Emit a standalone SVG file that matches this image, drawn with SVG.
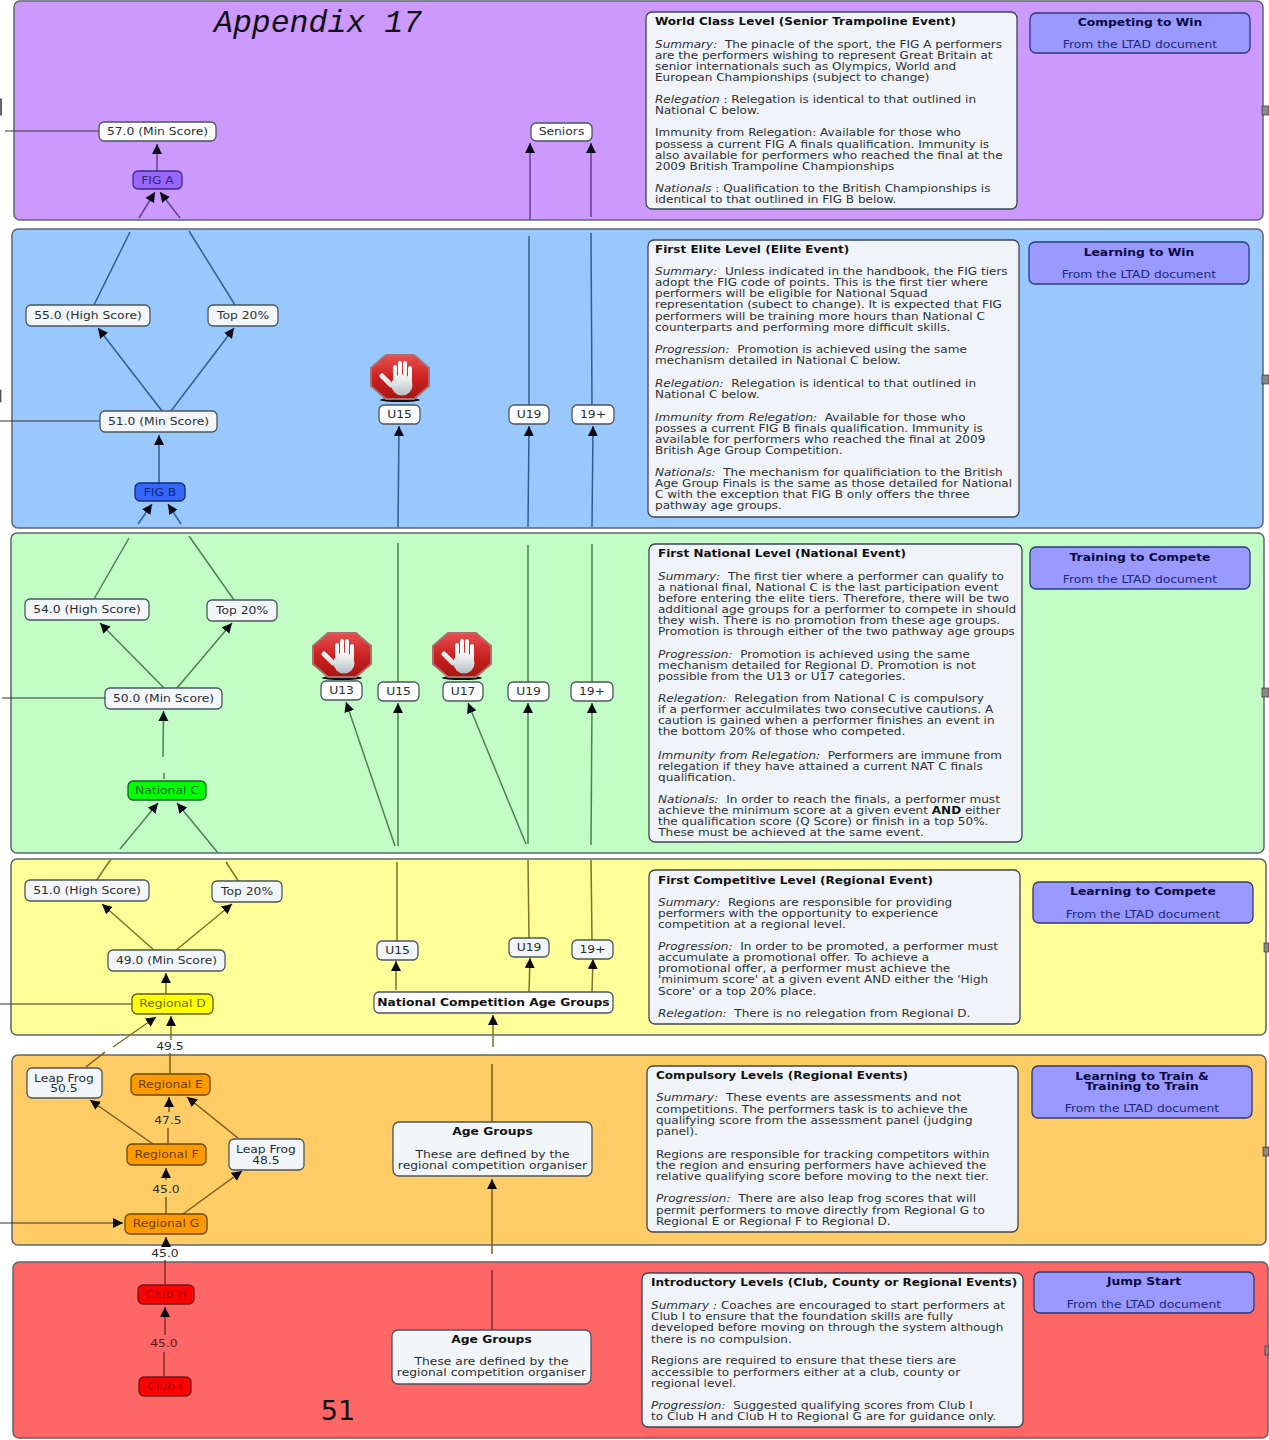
<svg xmlns="http://www.w3.org/2000/svg" width="1269" height="1440" viewBox="0 0 1269 1440">
<style>
text{font-family:"DejaVu Sans",Verdana,sans-serif;fill:#2a2f33;white-space:pre}
.band{stroke:#5c6670;stroke-width:1.5}
.panel{fill:#f0f4f8;stroke:#3c4650;stroke-width:1.3}
.note{fill:#f3f6f9;stroke:#4a5560;stroke-width:1.3}
.wn{fill:#fff;stroke:#4a5560;stroke-width:1.3}
.ltad{fill:#9999ff;stroke:#2c3a78;stroke-width:1.3}
.b,.h{font-size:10.4px;transform-box:fill-box;transform-origin:0 50%;transform:scaleX(1.158)}
.b{fill:#2c3136}
.h{font-weight:bold;fill:#111}
.i{font-style:italic}
.n,.lt,.ls{font-size:10.4px;text-anchor:middle;transform-box:fill-box;transform-origin:50% 50%;transform:scaleX(1.185)}
.lt{font-weight:bold;fill:#0a0a40}
.ls{fill:#1c2a78}
.c line{fill:none}
.pu line{stroke:#66408c}.bl line{stroke:#2f5f8a}.gr line{stroke:#4d7f58}.ye line{stroke:#7d7228}.or line{stroke:#7a5a1e}.re line{stroke:#8c2a30}
.c line{stroke-width:1.5}
.x line{stroke:#333;stroke-width:1}
</style>
<defs>
<marker id="a" markerUnits="userSpaceOnUse" markerWidth="12" markerHeight="12" refX="10" refY="5" orient="auto"><path d="M0 0L10 5L0 10Z" fill="#0a0a14"/></marker>
<linearGradient id="sg" x1="0" y1="0" x2="0" y2="1"><stop offset="0" stop-color="#e85050"/><stop offset=".5" stop-color="#cc2222"/><stop offset="1" stop-color="#a81410"/></linearGradient>
<linearGradient id="hg" gradientUnits="userSpaceOnUse" x1="0" y1="-16" x2="0" y2="19"><stop offset="0" stop-color="#fff"/><stop offset=".5" stop-color="#eef0f0"/><stop offset="1" stop-color="#b4bcc0"/></linearGradient>
<g id="stop">
<ellipse cx="0" cy="23" rx="20" ry="2" fill="#111"/>
<path d="M-14-22H14L29-9V9L14 22H-14L-29 9V-9Z" fill="url(#sg)" stroke="#a87070" stroke-width="2" stroke-linejoin="round"/>
<g stroke="url(#hg)" stroke-linecap="round" fill="none">
<path d="M-5-10V3M0-14V3M5-14V3M10-9V5" stroke-width="4"/>
<path d="M-18-1L-9 8" stroke-width="5"/>
</g>
<ellipse cx="2" cy="8" rx="10.500" ry="10.500" fill="url(#hg)"/>
</g>
</defs>
<rect width="1269" height="1440" fill="#fff"/>
<g id="bands">
<rect class="band" x="14" y="1" width="1249" height="219" rx="6" fill="#cc99ff"/>
<rect class="band" x="12" y="229" width="1251" height="299" rx="6" fill="#99c8ff"/>
<rect class="band" x="11" y="533" width="1253" height="320" rx="6" fill="#c2fdc6"/>
<rect class="band" x="11" y="859" width="1255" height="176" rx="6" fill="#ffff99"/>
<rect class="band" x="12" y="1055" width="1254" height="190" rx="6" fill="#ffcc66"/>
<rect class="band" x="13" y="1262" width="1255" height="176" rx="6" fill="#ff6666"/>
</g>
<g id="edge-marks" fill="#888" stroke="#333" stroke-width=".7">
<rect x="1262" y="106" width="7" height="9"/><rect x="1262" y="375" width="7" height="9"/><rect x="1262" y="688" width="7" height="9"/><rect x="1264" y="943" width="5" height="9"/><rect x="1263" y="1147" width="6" height="9"/><rect x="1265" y="1346" width="4" height="9"/>
<rect x="0" y="99" width="1.500" height="16"/><rect x="0" y="390" width="1" height="12"/>
</g>
<g id="connectors" class="c">
<g class="x">
<line x1="5" y1="131" x2="99" y2="131"/><line x1="0" y1="421" x2="100" y2="421"/><line x1="2" y1="698" x2="105" y2="698"/><line x1="0" y1="1004" x2="132" y2="1004"/>
<line x1="0" y1="1223" x2="123" y2="1223" marker-end="url(#a)"/>
</g>
<g class="pu">
<line x1="157" y1="172" x2="157" y2="144" marker-end="url(#a)"/>
<line x1="139" y1="218" x2="155" y2="192" marker-end="url(#a)"/>
<line x1="180" y1="218" x2="160" y2="192" marker-end="url(#a)"/>
<line x1="530" y1="220" x2="530" y2="143" marker-end="url(#a)"/>
<line x1="591" y1="217" x2="591" y2="143" marker-end="url(#a)"/>
</g>
<g class="bl">
<line x1="130" y1="232" x2="94" y2="305"/><line x1="189" y1="231" x2="235" y2="305"/>
<line x1="162" y1="411" x2="98" y2="328" marker-end="url(#a)"/>
<line x1="171" y1="411" x2="234" y2="328" marker-end="url(#a)"/>
<line x1="159" y1="484" x2="159" y2="435" marker-end="url(#a)"/>
<line x1="138" y1="524" x2="152" y2="504" marker-end="url(#a)"/>
<line x1="181" y1="524" x2="168" y2="504" marker-end="url(#a)"/>
<line x1="398" y1="527" x2="399" y2="426" marker-end="url(#a)"/>
<line x1="528" y1="527" x2="529" y2="426" marker-end="url(#a)"/>
<line x1="592" y1="527" x2="593" y2="426" marker-end="url(#a)"/>
<line x1="529" y1="236" x2="529" y2="405"/><line x1="591" y1="233" x2="592" y2="405"/>
</g>
<g class="gr">
<line x1="129" y1="538" x2="94" y2="599"/><line x1="189" y1="536" x2="234" y2="600"/>
<line x1="164" y1="688" x2="100" y2="623" marker-end="url(#a)"/>
<line x1="177" y1="688" x2="232" y2="623" marker-end="url(#a)"/>
<line x1="163" y1="757" x2="163.500" y2="711" marker-end="url(#a)"/>
<line x1="164" y1="773" x2="164" y2="779"/>
<line x1="120" y1="849" x2="158" y2="803" marker-end="url(#a)"/>
<line x1="218" y1="853" x2="177" y2="803" marker-end="url(#a)"/>
<line x1="395" y1="846" x2="346" y2="702" marker-end="url(#a)"/>
<line x1="398" y1="846" x2="398" y2="703" marker-end="url(#a)"/>
<line x1="526" y1="844" x2="468" y2="703" marker-end="url(#a)"/>
<line x1="528" y1="844" x2="528" y2="703" marker-end="url(#a)"/>
<line x1="591" y1="845" x2="592" y2="703" marker-end="url(#a)"/>
<line x1="398" y1="543" x2="398" y2="682"/><line x1="528" y1="545" x2="528" y2="682"/><line x1="592" y1="544" x2="592" y2="682"/>
</g>
<g class="ye">
<line x1="111" y1="859" x2="96" y2="881"/><line x1="226" y1="862" x2="239" y2="882"/>
<line x1="155" y1="951" x2="102" y2="904" marker-end="url(#a)"/>
<line x1="175" y1="951" x2="232" y2="904" marker-end="url(#a)"/>
<line x1="166" y1="994" x2="166" y2="973" marker-end="url(#a)"/>
<line x1="113" y1="1047" x2="156" y2="1017" marker-end="url(#a)"/>
<line x1="171" y1="1040" x2="171" y2="1016" marker-end="url(#a)"/>
<line x1="396" y1="990" x2="396" y2="961" marker-end="url(#a)"/>
<line x1="529" y1="992" x2="530" y2="958" marker-end="url(#a)"/>
<line x1="592" y1="992" x2="593" y2="959" marker-end="url(#a)"/>
<line x1="397" y1="862" x2="397" y2="941"/><line x1="528" y1="860" x2="529" y2="938"/><line x1="591" y1="860" x2="592" y2="940"/>
<line x1="493" y1="1047" x2="493" y2="1015" marker-end="url(#a)"/>
</g>
<g class="or">
<line x1="86" y1="1067" x2="105" y2="1052"/>
<line x1="170" y1="1053" x2="170" y2="1074"/>
<line x1="168" y1="1144" x2="168" y2="1128"/>
<line x1="169" y1="1112" x2="169" y2="1097" marker-end="url(#a)"/>
<line x1="153" y1="1144" x2="90" y2="1100" marker-end="url(#a)"/>
<line x1="238" y1="1138" x2="187" y2="1097" marker-end="url(#a)"/>
<line x1="166" y1="1214" x2="166" y2="1197"/>
<line x1="166" y1="1180" x2="166" y2="1168" marker-end="url(#a)"/>
<line x1="183" y1="1214" x2="242" y2="1171" marker-end="url(#a)"/>
<line x1="166" y1="1247" x2="166" y2="1237" marker-end="url(#a)"/>
<line x1="492" y1="1122" x2="492" y2="1064"/>
<line x1="492" y1="1254" x2="492" y2="1179" marker-end="url(#a)"/>
</g>
<g class="re">
<line x1="165" y1="1260" x2="165" y2="1285"/>
<line x1="164" y1="1376" x2="164" y2="1352"/>
<line x1="165" y1="1335" x2="165" y2="1307" marker-end="url(#a)"/>
<line x1="492" y1="1330" x2="492" y2="1270"/>
</g>
</g>
<g id="title"><text x="214" y="32" style="font-family:'Liberation Mono',monospace;font-style:italic;font-size:31.5px;fill:#111">Appendix 17</text></g>
<g id="page"><text x="338" y="1420" text-anchor="middle" style="font-size:27px;fill:#111">51</text></g>

<g id="n57"><rect class="wn" x="99" y="122" width="117" height="19" rx="5"/><text class="n" x="157.500" y="135">57.0 (Min Score)</text></g>
<g id="seniors"><rect class="wn" x="531" y="123" width="61" height="18" rx="5"/><text class="n" x="561.500" y="135">Seniors</text></g>
<g id="figa"><rect x="133" y="171" width="49" height="18" rx="5" fill="#9966ff" stroke="#3a2a80" stroke-width="1.3"/><text class="n" x="157.500" y="184" style="fill:#2a2a70">FIG A</text></g>

<g id="n55"><rect class="note" x="26" y="305" width="124" height="21" rx="5"/><text class="n" x="88" y="319">55.0 (High Score)</text></g>
<g id="t20b"><rect class="note" x="208" y="305" width="70" height="21" rx="5"/><text class="n" x="243" y="319">Top 20%</text></g>
<g id="n51"><rect class="note" x="100" y="411" width="117" height="21" rx="5"/><text class="n" x="158.500" y="425">51.0 (Min Score)</text></g>
<g id="figb"><rect x="135" y="483" width="50" height="18" rx="5" fill="#3366ff" stroke="#1a2a70" stroke-width="1.3"/><text class="n" x="160" y="496" style="fill:#14286e">FIG B</text></g>
<g id="stopb"><use href="#stop" x="400" y="377"/></g>
<g id="u15b"><rect class="wn" x="379" y="405" width="41" height="19" rx="5"/><text class="n" x="399.500" y="418">U15</text></g>
<g id="u19b"><rect class="wn" x="509" y="405" width="40" height="19" rx="5"/><text class="n" x="529" y="418">U19</text></g>
<g id="p19b"><rect class="wn" x="572" y="405" width="42" height="19" rx="5"/><text class="n" x="593" y="418">19+</text></g>

<g id="n54"><rect class="note" x="25" y="599" width="124" height="21" rx="5"/><text class="n" x="87" y="613">54.0 (High Score)</text></g>
<g id="t20g"><rect class="note" x="207" y="600" width="70" height="21" rx="5"/><text class="n" x="242" y="614">Top 20%</text></g>
<g id="n50"><rect class="note" x="105" y="688" width="117" height="21" rx="5"/><text class="n" x="163.500" y="702">50.0 (Min Score)</text></g>
<g id="natc"><rect x="128" y="781" width="78" height="19" rx="5" fill="#00ff00" stroke="#14602a" stroke-width="1.3"/><text class="n" x="167" y="794" style="fill:#0c6a2a">National C</text></g>
<g id="stop13"><use href="#stop" x="342" y="655"/></g>
<g id="stop17"><use href="#stop" x="462" y="655"/></g>
<g id="u13"><rect class="wn" x="321" y="681" width="41" height="19" rx="5"/><text class="n" x="341.500" y="694">U13</text></g>
<g id="u15g"><rect class="wn" x="378" y="682" width="41" height="19" rx="5"/><text class="n" x="398.500" y="695">U15</text></g>
<g id="u17"><rect class="wn" x="443" y="682" width="40" height="19" rx="5"/><text class="n" x="463" y="695">U17</text></g>
<g id="u19g"><rect class="wn" x="508" y="682" width="41" height="19" rx="5"/><text class="n" x="528.500" y="695">U19</text></g>
<g id="p19g"><rect class="wn" x="571" y="682" width="42" height="19" rx="5"/><text class="n" x="592" y="695">19+</text></g>

<g id="n51y"><rect class="note" x="25" y="880" width="124" height="21" rx="5"/><text class="n" x="87" y="894">51.0 (High Score)</text></g>
<g id="t20y"><rect class="note" x="212" y="881" width="70" height="21" rx="5"/><text class="n" x="247" y="895">Top 20%</text></g>
<g id="n49"><rect class="note" x="108" y="950" width="117" height="21" rx="5"/><text class="n" x="166.500" y="964">49.0 (Min Score)</text></g>
<g id="regd"><rect x="132" y="994" width="81" height="20" rx="5" fill="#ffff00" stroke="#5c5c20" stroke-width="1.3"/><text class="n" x="172.500" y="1007" style="fill:#6a6a10">Regional D</text></g>
<g id="u15y"><rect class="note" x="377" y="941" width="41" height="19" rx="5"/><text class="n" x="397.500" y="954">U15</text></g>
<g id="u19y"><rect class="note" x="509" y="938" width="40" height="19" rx="5"/><text class="n" x="529" y="951">U19</text></g>
<g id="p19y"><rect class="note" x="572" y="940" width="41" height="19" rx="5"/><text class="n" x="592.500" y="953">19+</text></g>
<g id="ncag"><rect class="wn" x="374" y="992" width="239" height="21" rx="5"/><text class="n" x="493.500" y="1006" style="font-weight:bold;fill:#111">National Competition Age Groups</text></g>
<g id="l495"><text class="n" x="170" y="1050">49.5</text></g>

<g id="lf505"><rect class="note" x="27" y="1068" width="75" height="30" rx="5"/><text class="n" x="64" y="1082">Leap Frog</text><text class="n" x="64" y="1092">50.5</text></g>
<g id="rege"><rect x="131" y="1074" width="79" height="21" rx="5" fill="#ff9900" stroke="#6a4a10" stroke-width="1.3"/><text class="n" x="170.500" y="1088" style="fill:#6a4208">Regional E</text></g>
<g id="l475"><text class="n" x="168" y="1124">47.5</text></g>
<g id="regf"><rect x="127" y="1144" width="79" height="21" rx="5" fill="#ff9900" stroke="#6a4a10" stroke-width="1.3"/><text class="n" x="166.500" y="1158" style="fill:#6a4208">Regional F</text></g>
<g id="lf485"><rect class="note" x="229" y="1139" width="75" height="31" rx="5"/><text class="n" x="266" y="1153">Leap Frog</text><text class="n" x="266" y="1164">48.5</text></g>
<g id="l450a"><text class="n" x="166" y="1193">45.0</text></g>
<g id="regg"><rect x="125" y="1214" width="82" height="20" rx="5" fill="#ff9900" stroke="#6a4a10" stroke-width="1.3"/><text class="n" x="166" y="1227" style="fill:#6a4208">Regional G</text></g>
<g id="l450b"><text class="n" x="165" y="1257">45.0</text></g>
<g id="ago"><rect class="note" x="393" y="1122" width="199" height="54" rx="6"/><text class="n" x="492.500" y="1135" style="font-weight:bold;fill:#111">Age Groups</text><text class="n" x="492.500" y="1158">These are defined by the</text><text class="n" x="492.500" y="1169">regional competition organiser</text></g>

<g id="cluh"><rect x="138" y="1285" width="56" height="19" rx="5" fill="#ff0000" stroke="#701818" stroke-width="1.3"/><text class="n" x="166" y="1298" style="fill:#a00c10">Club H</text></g>
<g id="l450c"><text class="n" x="164" y="1347" style="fill:#5a1a1c">45.0</text></g>
<g id="clui"><rect x="139" y="1377" width="52" height="19" rx="5" fill="#ff0000" stroke="#701818" stroke-width="1.3"/><text class="n" x="165" y="1390" style="fill:#a00c10">Club I</text></g>
<g id="agr"><rect class="note" x="392" y="1330" width="199" height="54" rx="6"/><text class="n" x="491.500" y="1343" style="font-weight:bold;fill:#111">Age Groups</text><text class="n" x="491.500" y="1365">These are defined by the</text><text class="n" x="491.500" y="1376">regional competition organiser</text></g>

<g id="world"><rect class="panel" x="646" y="12" width="371" height="197" rx="6"/>
<text class="h" x="655" y="25">World Class Level (Senior Trampoline Event)</text>
<text class="b" x="655" y="48"><tspan class="i">Summary:</tspan>  The pinacle of the sport, the FIG A performers</text>
<text class="b" x="655" y="59">are the performers wishing to represent Great Britain at</text>
<text class="b" x="655" y="70">senior internationals such as Olympics, World and</text>
<text class="b" x="655" y="81">European Championships (subject to change)</text>
<text class="b" x="655" y="103"><tspan class="i">Relegation</tspan> : Relegation is identical to that outlined in</text>
<text class="b" x="655" y="114">National C below.</text>
<text class="b" x="655" y="136">Immunity from Relegation: Available for those who</text>
<text class="b" x="655" y="148">possess a current FIG A finals qualification. Immunity is</text>
<text class="b" x="655" y="159">also available for performers who reached the final at the</text>
<text class="b" x="655" y="170">2009 British Trampoline Championships</text>
<text class="b" x="655" y="192"><tspan class="i">Nationals</tspan> : Qualification to the British Championships is</text>
<text class="b" x="655" y="203">identical to that outlined in FIG B below.</text>
</g>
<g id="elite"><rect class="panel" x="648" y="240" width="371" height="277" rx="6"/>
<text class="h" x="655" y="253">First Elite Level (Elite Event)</text>
<text class="b" x="655" y="275"><tspan class="i">Summary:</tspan>  Unless indicated in the handbook, the FIG tiers</text>
<text class="b" x="655" y="286">adopt the FIG code of points. This is the first tier where</text>
<text class="b" x="655" y="297">performers will be eligible for National Squad</text>
<text class="b" x="655" y="308">representation (subect to change). It is expected that FIG</text>
<text class="b" x="655" y="320">performers will be training more hours than National C</text>
<text class="b" x="655" y="331">counterparts and performing more difficult skills.</text>
<text class="b" x="655" y="353"><tspan class="i">Progression:</tspan>  Promotion is achieved using the same</text>
<text class="b" x="655" y="364">mechanism detailed in National C below.</text>
<text class="b" x="655" y="387"><tspan class="i">Relegation:</tspan>  Relegation is identical to that outlined in</text>
<text class="b" x="655" y="398">National C below.</text>
<text class="b" x="655" y="421"><tspan class="i">Immunity from Relegation:</tspan>  Available for those who</text>
<text class="b" x="655" y="432">posses a current FIG B finals qualification. Immunity is</text>
<text class="b" x="655" y="443">available for performers who reached the final at 2009</text>
<text class="b" x="655" y="454">British Age Group Competition.</text>
<text class="b" x="655" y="476"><tspan class="i">Nationals:</tspan>  The mechanism for qualificiation to the British</text>
<text class="b" x="655" y="487">Age Group Finals is the same as those detailed for National</text>
<text class="b" x="655" y="498">C with the exception that FIG B only offers the three</text>
<text class="b" x="655" y="509">pathway age groups.</text>
</g>
<g id="national"><rect class="panel" x="649" y="544" width="373" height="298" rx="6"/>
<text class="h" x="658" y="557">First National Level (National Event)</text>
<text class="b" x="658" y="580"><tspan class="i">Summary:</tspan>  The first tier where a performer can qualify to</text>
<text class="b" x="658" y="591">a national final, National C is the last participation event</text>
<text class="b" x="658" y="602">before entering the elite tiers. Therefore, there will be two</text>
<text class="b" x="658" y="613">additional age groups for a performer to compete in should</text>
<text class="b" x="658" y="624">they wish. There is no promotion from these age groups.</text>
<text class="b" x="658" y="635">Promotion is through either of the two pathway age groups</text>
<text class="b" x="658" y="658"><tspan class="i">Progression:</tspan>  Promotion is achieved using the same</text>
<text class="b" x="658" y="669">mechanism detailed for Regional D. Promotion is not</text>
<text class="b" x="658" y="680">possible from the U13 or U17 categories.</text>
<text class="b" x="658" y="702"><tspan class="i">Relegation:</tspan>  Relegation from National C is compulsory</text>
<text class="b" x="658" y="713">if a performer acculmilates two consecutive cautions. A</text>
<text class="b" x="658" y="724">caution is gained when a performer finishes an event in</text>
<text class="b" x="658" y="735">the bottom 20% of those who competed.</text>
<text class="b" x="658" y="759"><tspan class="i">Immunity from Relegation:</tspan>  Performers are immune from</text>
<text class="b" x="658" y="770">relegation if they have attained a current NAT C finals</text>
<text class="b" x="658" y="781">qualification.</text>
<text class="b" x="658" y="803"><tspan class="i">Nationals:</tspan>  In order to reach the finals, a performer must</text>
<text class="b" x="658" y="814">achieve the minimum score at a given event <tspan font-weight="bold" fill="#111">AND</tspan> either</text>
<text class="b" x="658" y="825">the qualification score (Q Score) or finish in a top 50%.</text>
<text class="b" x="658" y="836">These must be achieved at the same event.</text>
</g>
<g id="regional"><rect class="panel" x="649" y="870" width="371" height="154" rx="6"/>
<text class="h" x="658" y="884">First Competitive Level (Regional Event)</text>
<text class="b" x="658" y="906"><tspan class="i">Summary:</tspan>  Regions are responsible for providing</text>
<text class="b" x="658" y="917">performers with the opportunity to experience</text>
<text class="b" x="658" y="928">competition at a regional level.</text>
<text class="b" x="658" y="950"><tspan class="i">Progression:</tspan>  In order to be promoted, a performer must</text>
<text class="b" x="658" y="961">accumulate a promotional offer. To achieve a</text>
<text class="b" x="658" y="972">promotional offer, a performer must achieve the</text>
<text class="b" x="658" y="983">'minimum score' at a given event AND either the 'High</text>
<text class="b" x="658" y="995">Score' or a top 20% place.</text>
<text class="b" x="658" y="1017"><tspan class="i">Relegation:</tspan>  There is no relegation from Regional D.</text>
</g>
<g id="compulsory"><rect class="panel" x="647" y="1066" width="371" height="166" rx="6"/>
<text class="h" x="656" y="1079">Compulsory Levels (Regional Events)</text>
<text class="b" x="656" y="1101"><tspan class="i">Summary:</tspan>  These events are assessments and not</text>
<text class="b" x="656" y="1113">competitions. The performers task is to achieve the</text>
<text class="b" x="656" y="1124">qualifying score from the assessment panel (judging</text>
<text class="b" x="656" y="1135">panel).</text>
<text class="b" x="656" y="1158">Regions are responsible for tracking competitors within</text>
<text class="b" x="656" y="1169">the region and ensuring performers have achieved the</text>
<text class="b" x="656" y="1180">relative qualifying score before moving to the next tier.</text>
<text class="b" x="656" y="1202"><tspan class="i">Progression:</tspan>  There are also leap frog scores that will</text>
<text class="b" x="656" y="1214">permit performers to move directly from Regional G to</text>
<text class="b" x="656" y="1225">Regional E or Regional F to Regional D.</text>
</g>
<g id="intro"><rect class="panel" x="642" y="1273" width="381" height="154" rx="6"/>
<text class="h" x="651" y="1286">Introductory Levels (Club, County or Regional Events)</text>
<text class="b" x="651" y="1309"><tspan class="i">Summary :</tspan> Coaches are encouraged to start performers at</text>
<text class="b" x="651" y="1320">Club I to ensure that the foundation skills are fully</text>
<text class="b" x="651" y="1331">developed before moving on through the system although</text>
<text class="b" x="651" y="1343">there is no compulsion.</text>
<text class="b" x="651" y="1364">Regions are required to ensure that these tiers are</text>
<text class="b" x="651" y="1376">accessible to performers either at a club, county or</text>
<text class="b" x="651" y="1387">regional level.</text>
<text class="b" x="651" y="1409"><tspan class="i">Progression:</tspan>  Suggested qualifying scores from Club I</text>
<text class="b" x="651" y="1420">to Club H and Club H to Regional G are for guidance only.</text>
</g>

<g id="ltad1"><rect class="ltad" x="1030" y="13" width="220" height="40" rx="6"/><text class="lt" x="1140" y="26">Competing to Win</text><text class="ls" x="1140" y="48">From the LTAD document</text></g>
<g id="ltad2"><rect class="ltad" x="1029" y="242" width="220" height="42" rx="6"/><text class="lt" x="1139" y="256">Learning to Win</text><text class="ls" x="1139" y="278">From the LTAD document</text></g>
<g id="ltad3"><rect class="ltad" x="1030" y="547" width="220" height="42" rx="6"/><text class="lt" x="1140" y="561">Training to Compete</text><text class="ls" x="1140" y="583">From the LTAD document</text></g>
<g id="ltad4"><rect class="ltad" x="1033" y="882" width="220" height="41" rx="6"/><text class="lt" x="1143" y="895">Learning to Compete</text><text class="ls" x="1143" y="918">From the LTAD document</text></g>
<g id="ltad5"><rect class="ltad" x="1032" y="1066" width="220" height="52" rx="6"/><text class="lt" x="1142" y="1080">Learning to Train &amp;</text><text class="lt" x="1142" y="1090">Training to Train</text><text class="ls" x="1142" y="1112">From the LTAD document</text></g>
<g id="ltad6"><rect class="ltad" x="1034" y="1272" width="220" height="41" rx="6"/><text class="lt" x="1144" y="1285">Jump Start</text><text class="ls" x="1144" y="1308">From the LTAD document</text></g>
</svg>
